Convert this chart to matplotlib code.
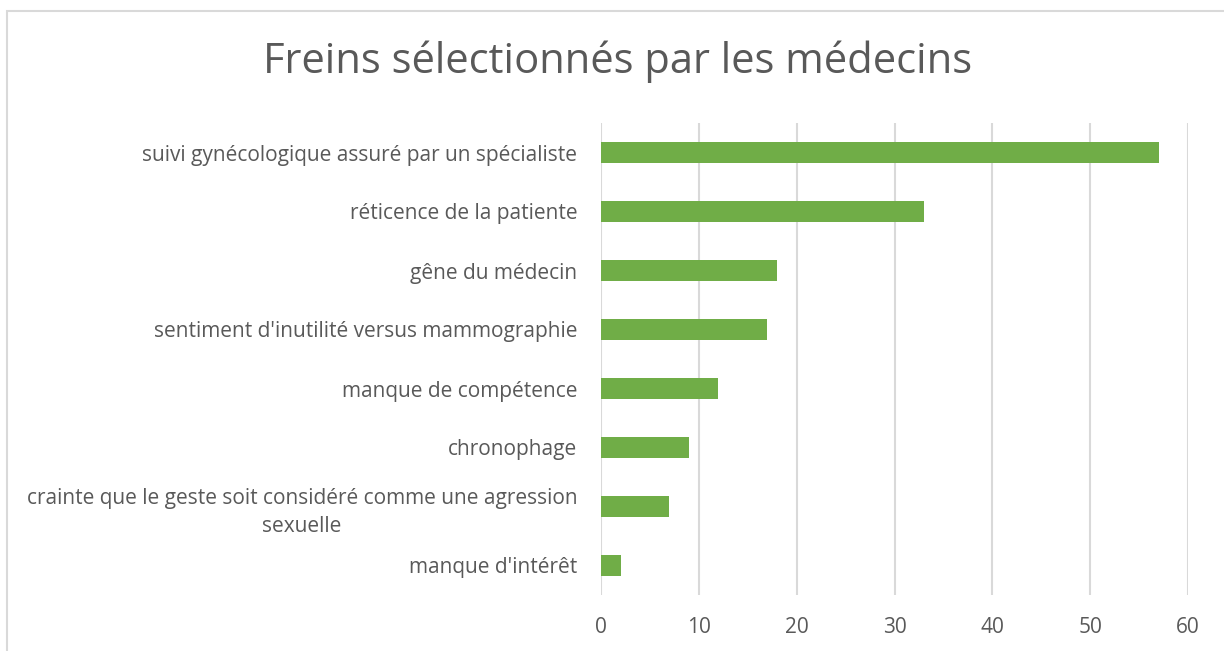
import matplotlib.pyplot as plt
from matplotlib.patches import Rectangle

categories = ["suivi gynécologique assuré par un spécialiste",
              "réticence de la patiente",
              "gêne du médecin",
              "sentiment d'inutilité versus mammographie",
              "manque de compétence",
              "chronophage",
              "crainte que le geste soit considéré comme une agression\nsexuelle",
              "manque d'intérêt"]
values = [57, 33, 18, 17, 12, 9, 7, 2]
xticks = [0, 10, 20, 30, 40, 50, 60]

plt.rcParams['font.family'] = ['Open Sans', 'DejaVu Sans']
text_color = '#595959'

fig = plt.figure(figsize=(12.24, 6.51), dpi=100)
# chart frame (cut at right and bottom edges)
fig.patches.append(Rectangle((7 / 1224, -0.05), 1.1, 1 - 11 / 651 + 0.05,
                             transform=fig.transFigure, fill=False,
                             edgecolor='#d9d9d9', linewidth=1.5))

ax = fig.add_axes([601 / 1224, 1 - 595 / 651, (1188 - 601) / 1224, (595 - 123) / 651])
pos = list(range(len(categories)))
ax.barh(pos, values, height=0.34, color='#70ad47')
ax.set_ylim(len(categories) - 0.5, -0.5)
ax.set_xlim(0, 60)
ax.set_xticks(xticks)
ax.set_yticks(pos)
ax.set_yticklabels(categories, multialignment='center', linespacing=1.45)
ax.grid(axis='x', color='#d9d9d9', linewidth=1.5)
ax.set_axisbelow(True)
for s in ax.spines.values():
    s.set_visible(False)
ax.tick_params(axis='y', length=0, pad=17, labelsize=15, labelcolor=text_color)
ax.tick_params(axis='x', length=0, pad=16, labelsize=15, labelcolor=text_color)

fig.text(618 / 1224, 1 - 62 / 651, 'Freins sélectionnés par les médecins',
         ha='center', va='center', fontsize=30, color=text_color)

plt.savefig('out.png', dpi=100)
